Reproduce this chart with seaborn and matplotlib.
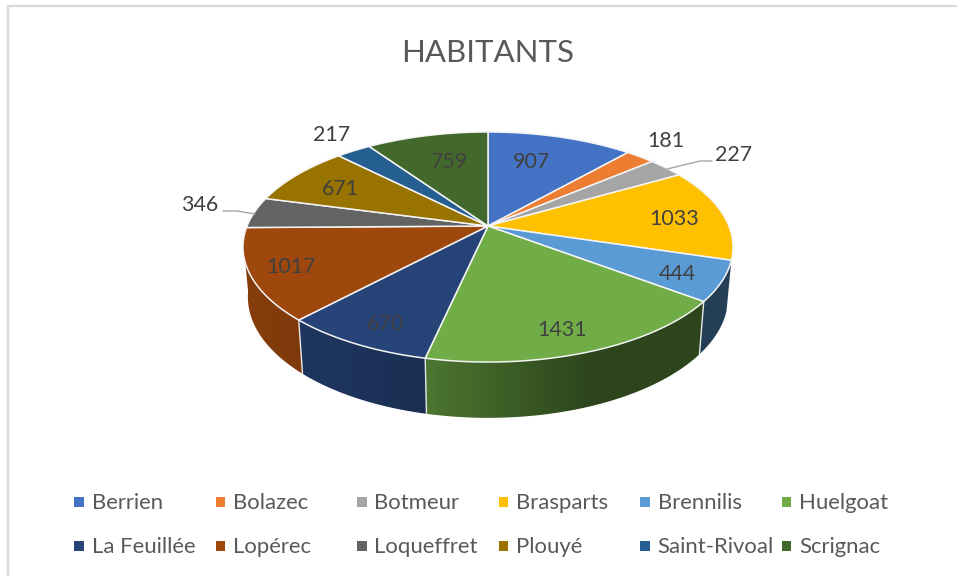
#!/usr/bin/env python3
"""Habitants per commune - tilted 3D pie drawn on a pixel sized axes"""

import numpy as np
import pandas as pd
import matplotlib
matplotlib.use('Agg')
import matplotlib.pyplot as plt
from matplotlib.patches import Polygon
import seaborn as sns

# Data
communes = ['Berrien', 'Bolazec', 'Botmeur', 'Brasparts', 'Brennilis', 'Huelgoat',
            'La Feuillée', 'Lopérec', 'Loqueffret', 'Plouyé', 'Saint-Rivoal', 'Scrignac']
habitants = [907, 181, 227, 1033, 444, 1431, 670, 1017, 346, 671, 217, 759]
colors = ['#4472C4', '#ED7D31', '#A5A5A5', '#FFC000', '#5B9BD5', '#70AD47',
          '#264478', '#9E480E', '#636363', '#997300', '#255E91', '#43682B']
title = 'HABITANTS'

# Value label centres, pixels
label_x = [532, 666, 734, 674, 677, 562, 385, 291, 200, 340, 332, 450]
label_y = [162, 141, 155, 219, 274, 330, 324, 267, 205, 189, 135, 162]

# Perspective of the pie, pixels
APEX_X, APEX_Y = 488, 226
PERSP = 0.1826
SCALE_X, SCALE_Y = 240.9, 111.2
LOWER_Y0, LOWER_SX, LOWER_SY = 275, 0.98, 1.05
WALL_FROM, WALL_TO = 107, 262  # part of the side that shows, degrees

# Side shading by x position
SHADE_X = [245, 300, 427, 590, 733]
SHADE_F = [0.85, 0.80, 0.68, 0.40, 0.40]


def rim(deg):
    """Top rim point(s) for angle clockwise from the back of the pie"""
    t = np.radians(deg)
    u, v = np.sin(t), np.cos(t)
    w = 1 + PERSP * v
    return APEX_X + SCALE_X * u / w, APEX_Y - SCALE_Y * v / w


def lower(deg):
    x, y = rim(deg)
    return APEX_X + LOWER_SX * (x - APEX_X), LOWER_Y0 + LOWER_SY * (y - APEX_Y)


sns.set_theme(style='white')
plt.rcParams['font.family'] = ['Lato', 'DejaVu Sans']

fig = plt.figure(figsize=(9.57, 5.76), dpi=100)
ax = fig.add_axes([0, 0, 1, 1])
ax.axis('off')

# Chart frame
ax.plot([7.5, 7.5, 957], [576, 5.5, 5.5], color='#d9d9d9', lw=1.6, solid_joinstyle='miter')

edges = np.cumsum([0] + habitants) / sum(habitants) * 360
shade_row = np.interp(np.arange(957) + 0.5, SHADE_X, SHADE_F)

# Sides first, a horizontal gradient clipped to each wall
for i, col in enumerate(colors):
    a0, a1 = max(edges[i], WALL_FROM), min(edges[i + 1], WALL_TO)
    if a1 <= a0:
        continue
    base = np.array(matplotlib.colors.to_rgb(col))
    angles = np.linspace(a0, a1, 80)
    tx, ty = rim(angles)
    bx, by = lower(angles)
    wall = Polygon(list(zip(tx, ty)) + list(zip(bx[::-1], by[::-1])), closed=True,
                   transform=ax.transData, facecolor='none', edgecolor='none')
    ax.add_patch(wall)
    img = ax.imshow(shade_row[None, :, None] * base, extent=(0, 957, 576, 0), aspect='auto',
                    interpolation='bilinear', zorder=1)
    img.set_clip_path(wall)

# Separators on the side
for a in edges[1:-1]:
    if WALL_FROM < a < WALL_TO:
        x0, y0 = rim(a)
        x1, y1 = lower(a)
        ax.plot([x0, x1], [y0, y1], color='#e8e8e8', lw=1.0, zorder=2)

# Top faces
for i, col in enumerate(colors):
    angles = np.linspace(edges[i], edges[i + 1], 80)
    xs, ys = rim(angles)
    pts = [(APEX_X, APEX_Y)] + list(zip(xs, ys))
    ax.add_patch(Polygon(pts, closed=True, facecolor=col, edgecolor='#f4f4f4', lw=1.1,
                         joinstyle='round', zorder=3))

# Leader lines
ax.plot([223, 237, 255], [211, 211, 214], color='#a6a6a6', lw=1.0, zorder=4)
ax.plot([712, 700, 667], [161, 161, 169], color='#a6a6a6', lw=1.0, zorder=4)

# Value labels
for x, y, val in zip(label_x, label_y, habitants):
    ax.text(x, y, str(val), ha='center', va='center', fontsize=15.4, color='#404040', zorder=5)

ax.text(488, 52.5, title, ha='center', va='center', fontsize=22.5, color='#595959')

# Legend, two rows of six
legend_df = pd.DataFrame({
    'commune': communes,
    'x': [79 + 141.5 * (i % 6) for i in range(12)],
    'y': [502 + 44 * (i // 6) for i in range(12)],
})
sns.scatterplot(data=legend_df, x='x', y='y', hue='commune', palette=colors, marker='s',
                s=50, linewidth=0, legend=False, ax=ax)
for _, row in legend_df.iterrows():
    ax.text(row['x'] + 12.5, row['y'] + 1, row['commune'], ha='left', va='center',
            fontsize=15.9, color='#595959')

ax.set_xlim(0, 957)
ax.set_ylim(576, 0)
ax.axis('off')

fig.savefig('out.png', dpi=100)
